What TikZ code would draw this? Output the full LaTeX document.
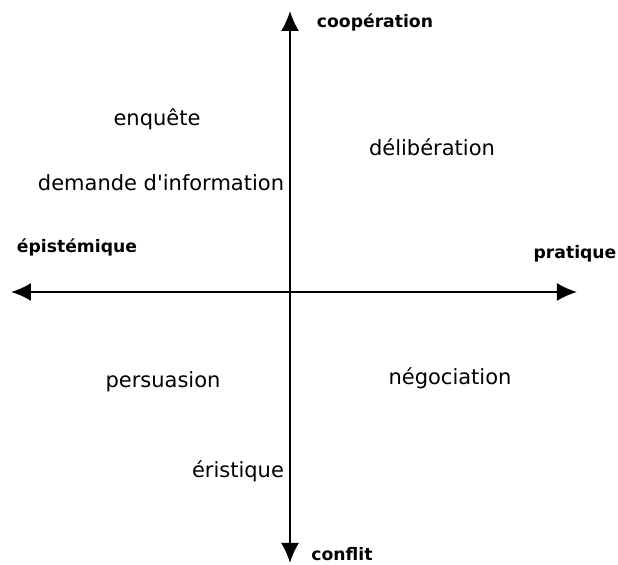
\documentclass[tikz,border=0pt]{standalone}
\usepackage{fontspec}
\setmainfont{DejaVu Sans}
\usetikzlibrary{arrows.meta, positioning}

\begin{document}
\begin{tikzpicture}[x=0.5pt, y=-0.5pt,
        axe/.style={line width=1pt, {Latex[length=10pt,width=9pt]}-{Latex[length=10pt,width=9pt]}},
        pole/.style={font=\fontsize{8.6}{10}\selectfont\bfseries},
        type/.style={font=\fontsize{10.5}{12}\selectfont}]
        \useasboundingbox (0,0) rectangle (618,565);
        \coordinate (haut) at (290,11);
        \coordinate (bas) at (290,563);
        \coordinate (gauche) at (11,292);
        \coordinate (droite) at (577,292);
        \draw[axe] (bas) -- (haut);
        \draw[axe] (gauche) -- (droite);
        \node[pole] (coop) at (375,22) {coopération};
        \node[pole] (conf) at (342,554) {conflit};
        \node[pole] (epis) at (77,247) {épistémique};
        \node[pole] (prat) at (575,254) {pratique};
        \node[type] (enq) at (157,119) {enquête};
        \node[type] (delib) at (432,147) {délibération};
        \node[type] (demande) at (161,183) {demande d\textquotesingle information};
        \node[type] (pers) at (163,382) {persuasion};
        \node[type] (nego) at (450,378) {négociation};
        \node[type] (erist) at (238,471) {éristique};
\end{tikzpicture}
\end{document}
